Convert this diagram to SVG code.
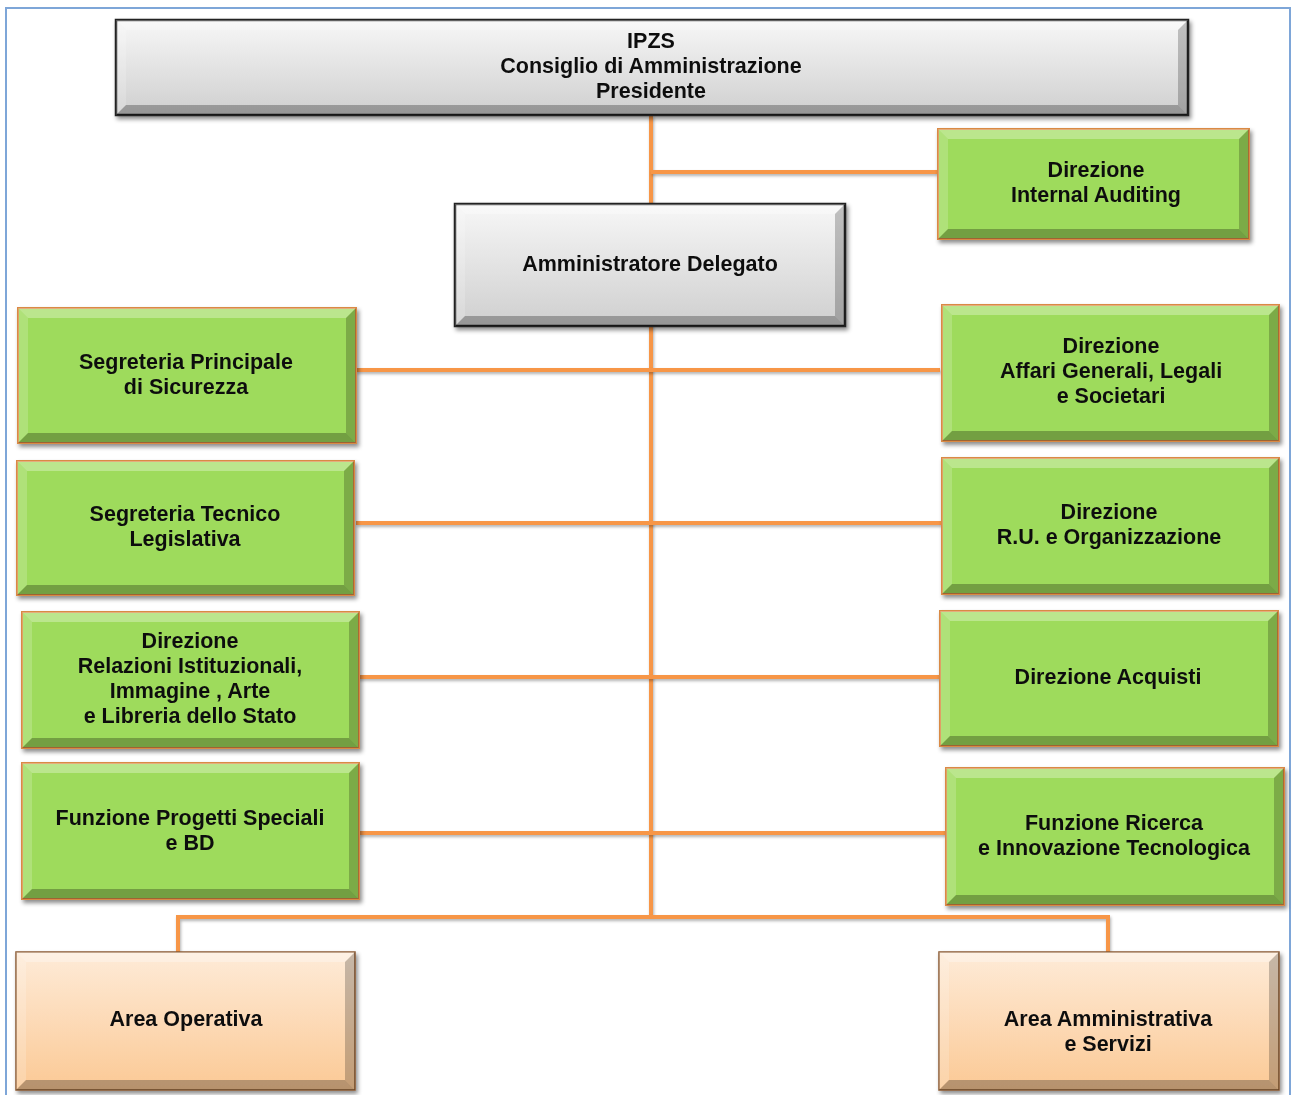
<svg xmlns="http://www.w3.org/2000/svg" width="1293" height="1095" viewBox="0 0 1293 1095">
<style>
text{font-family:"Liberation Sans",Arial,sans-serif;font-weight:bold;font-size:21.5px;fill:#111;text-anchor:middle}
.conn{stroke:#F79646;stroke-width:4;fill:none;filter:url(#ls)}
.bt{fill:#fff;opacity:.3}
.bl{fill:#fff;opacity:.18}
.br{fill:#000;opacity:.22}
.bb{fill:#000;opacity:.27}
.gray{fill:url(#gGray);stroke:#222;stroke-width:2.5}
.green{fill:#9EDB5C;stroke:#D98A45;stroke-width:2}
.peach{fill:url(#gPeach);stroke:#8A5A30;stroke-width:1.5}
.node{filter:url(#sh)}
</style>
<defs>
<linearGradient id="gGray" x1="0" y1="0" x2="0" y2="1"><stop offset="0" stop-color="#f7f7f7"/><stop offset="1" stop-color="#cfcfcf"/></linearGradient>
<linearGradient id="gPeach" x1="0" y1="0" x2="0" y2="1"><stop offset="0" stop-color="#FEEBD8"/><stop offset="1" stop-color="#FBC995"/></linearGradient>
<filter id="sh" x="-5%" y="-10%" width="112%" height="125%"><feDropShadow dx="2" dy="3" stdDeviation="2" flood-color="#000" flood-opacity="0.45"/></filter>
<filter id="ls" filterUnits="userSpaceOnUse" x="0" y="0" width="1293" height="1095"><feDropShadow dx="1" dy="2" stdDeviation="1.5" flood-color="#000" flood-opacity="0.3"/></filter>
</defs>
<rect x="6" y="8" width="1284" height="1100" fill="#fff" stroke="#7EA6D8" stroke-width="2"/>

<g id="connectors">
<path class="conn" d="M651 115 V915"/>
<path class="conn" d="M651 172 H938"/>
<path class="conn" d="M356 370 H940"/>
<path class="conn" d="M356 523 H942"/>
<path class="conn" d="M358 677 H940"/>
<path class="conn" d="M359 833 H946"/>
<path class="conn" d="M178 952 V917 H1108 V952"/>
</g>

<g id="n-ipzs" class="node" transform="translate(116,20)">
<rect class="gray" width="1072" height="95"/>
<polygon class="bt" points="0,0 1072,0 1062,10 10,10"/><polygon class="bl" points="0,0 10,10 10,85 0,95"/>
<polygon class="br" points="1072,0 1072,95 1062,85 1062,10"/><polygon class="bb" points="0,95 1072,95 1062,85 10,85"/>
<text x="535" y="28">IPZS</text><text x="535" y="53">Consiglio di Amministrazione</text><text x="535" y="78">Presidente</text>
</g>

<g id="n-audit" class="node" transform="translate(938,129)">
<rect class="green" width="311" height="110"/>
<polygon class="bt" points="0,0 311,0 301,10 10,10"/><polygon class="bl" points="0,0 10,10 10,100 0,110"/>
<polygon class="br" points="311,0 311,110 301,100 301,10"/><polygon class="bb" points="0,110 311,110 301,100 10,100"/>
<text x="158" y="48">Direzione</text><text x="158" y="73">Internal  Auditing</text>
</g>

<g id="n-ad" class="node" transform="translate(455,204)">
<rect class="gray" width="390" height="122"/>
<polygon class="bt" points="0,0 390,0 380,10 10,10"/><polygon class="bl" points="0,0 10,10 10,112 0,122"/>
<polygon class="br" points="390,0 390,122 380,112 380,10"/><polygon class="bb" points="0,122 390,122 380,112 10,112"/>
<text x="195" y="67">Amministratore Delegato</text>
</g>

<g id="n-spsic" class="node" transform="translate(18,308)">
<rect class="green" width="338" height="135"/>
<polygon class="bt" points="0,0 338,0 328,10 10,10"/><polygon class="bl" points="0,0 10,10 10,125 0,135"/>
<polygon class="br" points="338,0 338,135 328,125 328,10"/><polygon class="bb" points="0,135 338,135 328,125 10,125"/>
<text x="168" y="61">Segreteria Principale</text><text x="168" y="86">di Sicurezza</text>
</g>

<g id="n-affari" class="node" transform="translate(942,305)">
<rect class="green" width="337" height="136"/>
<polygon class="bt" points="0,0 337,0 327,10 10,10"/><polygon class="bl" points="0,0 10,10 10,126 0,136"/>
<polygon class="br" points="337,0 337,136 327,126 327,10"/><polygon class="bb" points="0,136 337,136 327,126 10,126"/>
<text x="169" y="48">Direzione</text><text x="169" y="73">Affari Generali, Legali</text><text x="169" y="98">e Societari</text>
</g>

<g id="n-stl" class="node" transform="translate(17,461)">
<rect class="green" width="337" height="134"/>
<polygon class="bt" points="0,0 337,0 327,10 10,10"/><polygon class="bl" points="0,0 10,10 10,124 0,134"/>
<polygon class="br" points="337,0 337,134 327,124 327,10"/><polygon class="bb" points="0,134 337,134 327,124 10,124"/>
<text x="168" y="60">Segreteria Tecnico</text><text x="168" y="85">Legislativa</text>
</g>

<g id="n-ru" class="node" transform="translate(942,458)">
<rect class="green" width="337" height="136"/>
<polygon class="bt" points="0,0 337,0 327,10 10,10"/><polygon class="bl" points="0,0 10,10 10,126 0,136"/>
<polygon class="br" points="337,0 337,136 327,126 327,10"/><polygon class="bb" points="0,136 337,136 327,126 10,126"/>
<text x="167" y="61">Direzione</text><text x="167" y="86">R.U. e Organizzazione</text>
</g>

<g id="n-rel" class="node" transform="translate(22,612)">
<rect class="green" width="337" height="136"/>
<polygon class="bt" points="0,0 337,0 327,10 10,10"/><polygon class="bl" points="0,0 10,10 10,126 0,136"/>
<polygon class="br" points="337,0 337,136 327,126 327,10"/><polygon class="bb" points="0,136 337,136 327,126 10,126"/>
<text x="168" y="36">Direzione</text><text x="168" y="61">Relazioni Istituzionali,</text><text x="168" y="86">Immagine , Arte</text><text x="168" y="111">e Libreria dello Stato</text>
</g>

<g id="n-acq" class="node" transform="translate(940,611)">
<rect class="green" width="338" height="135"/>
<polygon class="bt" points="0,0 338,0 328,10 10,10"/><polygon class="bl" points="0,0 10,10 10,125 0,135"/>
<polygon class="br" points="338,0 338,135 328,125 328,10"/><polygon class="bb" points="0,135 338,135 328,125 10,125"/>
<text x="168" y="73">Direzione Acquisti</text>
</g>

<g id="n-prog" class="node" transform="translate(22,763)">
<rect class="green" width="337" height="136"/>
<polygon class="bt" points="0,0 337,0 327,10 10,10"/><polygon class="bl" points="0,0 10,10 10,126 0,136"/>
<polygon class="br" points="337,0 337,136 327,126 327,10"/><polygon class="bb" points="0,136 337,136 327,126 10,126"/>
<text x="168" y="62">Funzione Progetti Speciali</text><text x="168" y="87">e BD</text>
</g>

<g id="n-ric" class="node" transform="translate(946,768)">
<rect class="green" width="338" height="137"/>
<polygon class="bt" points="0,0 338,0 328,10 10,10"/><polygon class="bl" points="0,0 10,10 10,127 0,137"/>
<polygon class="br" points="338,0 338,137 328,127 328,10"/><polygon class="bb" points="0,137 338,137 328,127 10,127"/>
<text x="168" y="62">Funzione Ricerca</text><text x="168" y="87">e Innovazione Tecnologica</text>
</g>

<g id="n-areaop" class="node" transform="translate(16,952)">
<rect class="peach" width="339" height="138"/>
<polygon class="bt" points="0,0 339,0 329,10 10,10"/><polygon class="bl" points="0,0 10,10 10,128 0,138"/>
<polygon class="br" points="339,0 339,138 329,128 329,10"/><polygon class="bb" points="0,138 339,138 329,128 10,128"/>
<text x="170" y="74">Area Operativa</text>
</g>

<g id="n-areaamm" class="node" transform="translate(939,952)">
<rect class="peach" width="340" height="138"/>
<polygon class="bt" points="0,0 340,0 330,10 10,10"/><polygon class="bl" points="0,0 10,10 10,128 0,138"/>
<polygon class="br" points="340,0 340,138 330,128 330,10"/><polygon class="bb" points="0,138 340,138 330,128 10,128"/>
<text x="169" y="74">Area Amministrativa</text><text x="169" y="99">e Servizi</text>
</g>
</svg>
